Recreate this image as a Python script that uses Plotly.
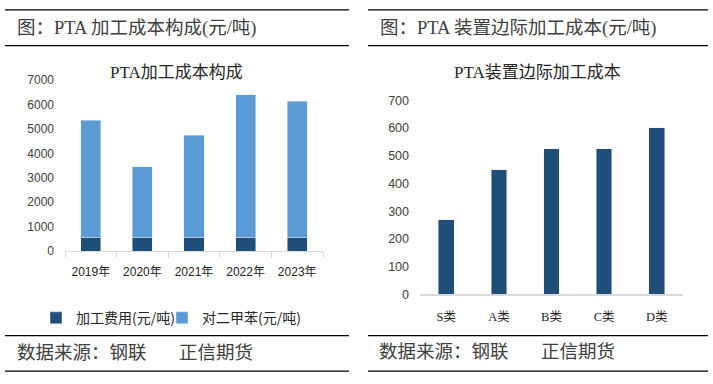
import plotly.graph_objects as go

# ---- data ----
years = ["2019年", "2020年", "2021年", "2022年", "2023年"]
proc_fee = [570, 570, 570, 570, 570]          # 加工费用(元/吨)
px_cost = [4780, 2880, 4185, 5845, 5570]      # 对二甲苯(元/吨)

classes = ["S类", "A类", "B类", "C类", "D类"]
marginal_cost = [270, 450, 525, 525, 600]

left_ticks = [0, 1000, 2000, 3000, 4000, 5000, 6000, 7000]
right_ticks = [0, 100, 200, 300, 400, 500, 600, 700]

W, H = 713, 384
DARK = "#1F4E79"
LIGHT = "#5B9BD5"
SERIF = "Liberation Serif, Noto Sans CJK SC, serif"
SANS = "Liberation Sans, Noto Sans CJK SC, sans-serif"
CJK = "Noto Sans CJK SC, sans-serif"


def px(x):
    return x / W


def py(y):
    return 1 - y / H


fig = go.Figure()

fig.add_trace(go.Bar(x=years, y=proc_fee, name="加工费用(元/吨)", marker_color=DARK,
                     width=0.39, xaxis="x", yaxis="y", legend="legend"))
fig.add_trace(go.Bar(x=years, y=px_cost, name="对二甲苯(元/吨)", marker_color=LIGHT,
                     width=0.39, xaxis="x", yaxis="y", legend="legend2"))
fig.add_trace(go.Bar(x=classes, y=marginal_cost, name="边际加工成本", marker_color=DARK,
                     width=0.30, xaxis="x2", yaxis="y2", showlegend=False))

legend_common = dict(orientation="h", xanchor="left", y=py(323), yanchor="middle",
                     font=dict(family=CJK, size=14, color="#262626"),
                     itemwidth=30, bgcolor="rgba(0,0,0,0)")

fig.update_layout(
    width=W, height=H, autosize=False,
    margin=dict(l=0, r=0, t=0, b=0),
    paper_bgcolor="white", plot_bgcolor="white",
    barmode="stack",
    showlegend=True,
    legend=dict(x=px(36), **legend_common),
    legend2=dict(x=px(162), **legend_common),
    xaxis=dict(domain=[px(65), px(323)], anchor="y", type="category",
               showline=True, linecolor="#D9D9D9", linewidth=1.3,
               ticks="outside", tickson="boundaries", ticklen=6, tickcolor="#D9D9D9",
               ticklabelstandoff=9,
               tickfont=dict(family=SANS, size=12, color="#262626"), showgrid=False,
               fixedrange=True),
    yaxis=dict(domain=[py(253.3), py(76)], anchor="x", range=[0, 7000],
               tickvals=left_ticks, showgrid=False, zeroline=False, showline=False,
               ticks="", ticklabelstandoff=10,
               tickfont=dict(family=SANS, size=12, color="#404040"), fixedrange=True),
    xaxis2=dict(domain=[px(420), px(683)], anchor="y2", type="category",
                showline=True, linecolor="#D9D9D9", linewidth=1.3, ticks="",
                ticklabelstandoff=10,
                tickfont=dict(family=SERIF, size=12.5, color="#262626"), showgrid=False,
                fixedrange=True),
    yaxis2=dict(domain=[py(298.3), py(96.7)], anchor="x2", range=[0, 700],
                tickvals=right_ticks, showgrid=False, zeroline=False, showline=False,
                ticks="", ticklabelstandoff=10,
                tickfont=dict(family=SANS, size=12.5, color="#404040"), fixedrange=True),
)

# horizontal rules
shapes = []
for (x0, x1) in [(5, 349), (368, 708)]:
    for yy in [3, 40, 341, 378]:
        shapes.append(dict(type="line", xref="paper", yref="paper",
                           x0=px(x0), x1=px(x1), y0=py(yy), y1=py(yy),
                           line=dict(color="#000000", width=1.3)))
fig.update_layout(shapes=shapes)

ann = []
# panel headers
ann.append(dict(text="图：PTA 加工成本构成(元/吨)", x=px(15), y=py(22), xanchor="left",
                yanchor="middle", font=dict(family=SERIF, size=18.5, color="#404040")))
ann.append(dict(text="图：PTA 装置边际加工成本(元/吨)", x=px(378), y=py(22), xanchor="left",
                yanchor="middle", font=dict(family=SERIF, size=18.5, color="#404040")))
# chart titles
ann.append(dict(text="PTA加工成本构成", x=px(176), y=py(68), xanchor="center",
                yanchor="middle", font=dict(family=SERIF, size=17, color="#262626")))
ann.append(dict(text="PTA装置边际加工成本", x=px(537), y=py(68), xanchor="center",
                yanchor="middle", font=dict(family=SERIF, size=17, color="#262626")))
# sources
src = "数据来源：钢联\u3000\u00a0\u00a0\u00a0正信期货"
ann.append(dict(text=src, x=px(15), y=py(359), xanchor="left", yanchor="middle",
                font=dict(family=SERIF, size=18.5, color="#404040")))
ann.append(dict(text=src, x=px(377), y=py(358), xanchor="left", yanchor="middle",
                font=dict(family=SERIF, size=18.5, color="#404040")))
for a in ann:
    a.update(xref="paper", yref="paper", showarrow=False)
fig.update_layout(annotations=ann)

fig.write_html("out.html", config={"displayModeBar": False, "staticPlot": True},
               post_script="document.body.style.margin='0';document.body.style.overflow='hidden';")
